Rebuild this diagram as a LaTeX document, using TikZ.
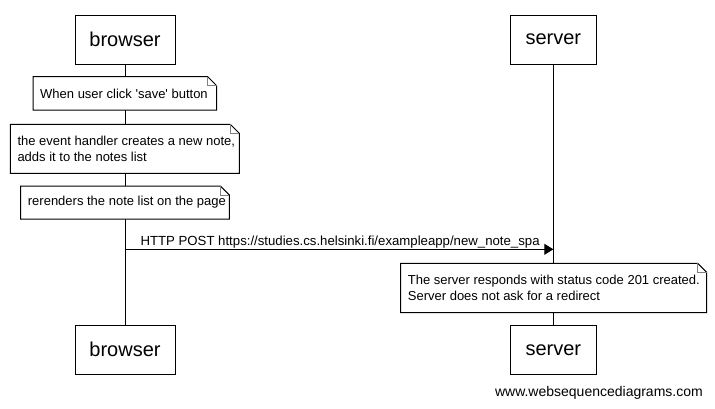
\documentclass[tikz,border=0pt]{standalone}
\usepackage{fontspec}
\setmainfont{Liberation Sans}
\usetikzlibrary{arrows.meta}
\tikzset{
  actor/.style={draw, line width=1pt, fill=white, minimum height=49pt, inner sep=0pt,
    font=\fontsize{20}{24}\selectfont},
  notetext/.style={inner sep=0pt, align=left, anchor=west,
    font=\fontsize{13}{16}\selectfont},
  noteline/.style={line width=1pt, fill=white},
  lifeline/.style={line width=1pt},
  msg/.style={line width=1pt, -{Triangle[length=9pt,width=11pt]}},
  msglabel/.style={font=\fontsize{13.2}{16}\selectfont, inner sep=0pt},
  fold/.style={draw=gray, line width=1pt},
}
% \notebox{name}{left}{top}{right}{bottom}{middle y}{text}
\newcommand\notebox[7]{%
  \draw[noteline] (#2,#3) -- (#4-9,#3) -- (#4,#3+9) -- (#4,#5) -- (#2,#5) -- cycle;
  \draw[fold] (#4-9,#3) |- (#4,#3+9);
  \node[notetext] (#1) at (#2+7,#6) {#7};
}
\begin{document}
\begin{tikzpicture}[x=1pt,y=-1pt]
\useasboundingbox[fill=white] (0,0) rectangle (715,408);
% actors
\node[actor, minimum width=100pt] (bt) at (125,39.6) {browser};
\node[actor, minimum width=86.5pt] (st) at (553.3,39.6) {server};
\node[actor, minimum width=100pt] (bb) at (125,349.8) {browser};
\node[actor, minimum width=86.5pt] (sb) at (553.3,349.8) {server};
% lifelines
\draw[lifeline] (bt.south) -- (bb.north);
\draw[lifeline] (st.south) -- (sb.north);
% notes
\notebox{n1}{33}{76.7}{216.7}{110}{93.4}{When user click \textquotesingle save\textquotesingle{} button}
\notebox{n2}{10.3}{124.3}{239.3}{173.3}{148.8}{the event handler creates a new note,\\adds it to the notes list}
\notebox{n3}{20.7}{186}{229.3}{219}{202.5}{rerenders the note list on the page}
% message
\coordinate (ma) at (125,249.3);
\coordinate (mb) at (553.3,249.3);
\draw[msg] (ma) -- (mb) node[msglabel, pos=0, anchor=base west, xshift=15pt, yshift=4.3pt] (ml) {HTTP POST https://studies.cs.helsinki.fi/exampleapp/new\_note\_spa};
% server note
\notebox{n4}{400.7}{263.3}{706.7}{312.7}{288}{The server responds with status code 201 created.\\Server does not ask for a redirect}
% watermark
\node[font=\fontsize{14}{17}\selectfont, inner sep=0pt, anchor=base east] (wm) at (703,396.7) {www.websequencediagrams.com};
\end{tikzpicture}
\end{document}
